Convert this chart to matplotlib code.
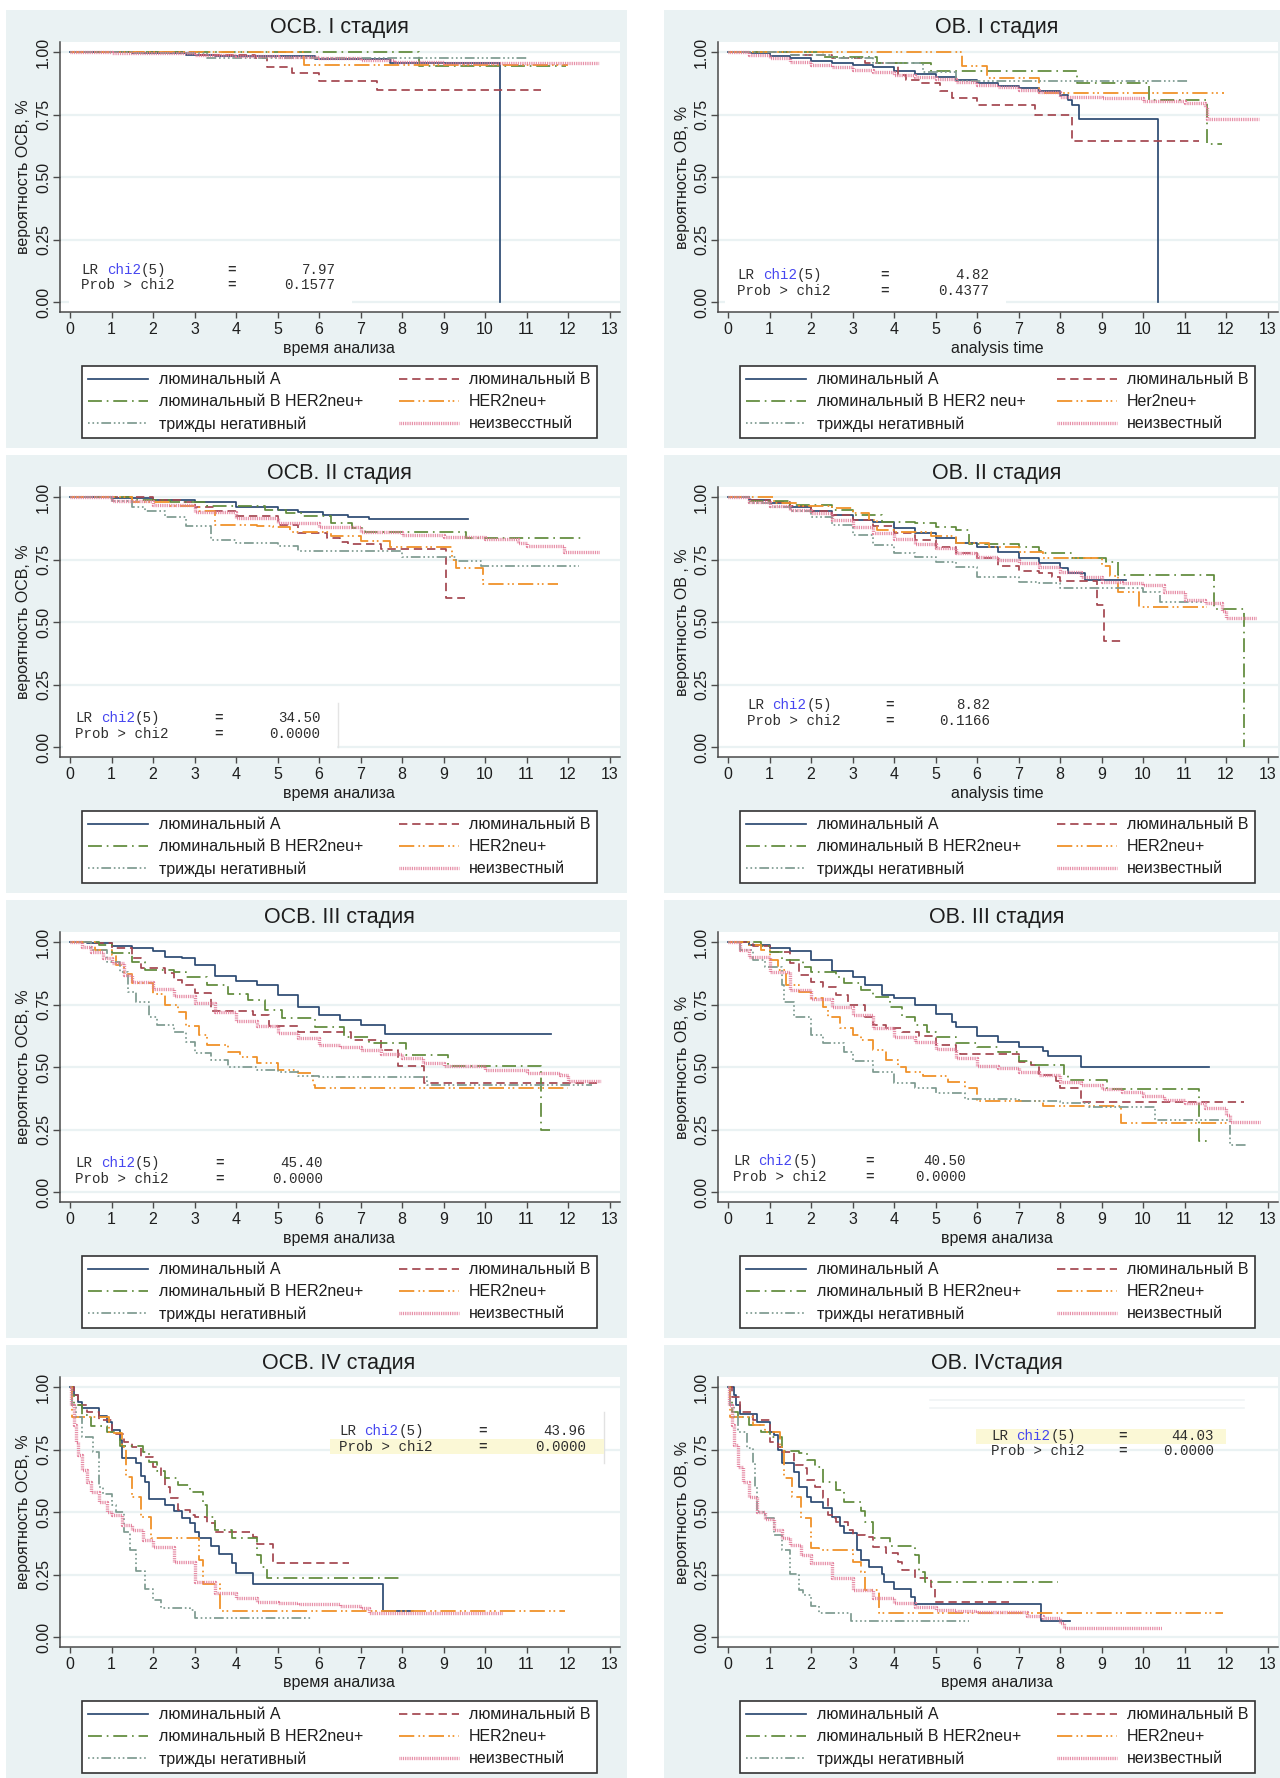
import matplotlib
matplotlib.use("Agg")
import matplotlib.pyplot as plt
from matplotlib.patches import Rectangle
from matplotlib.lines import Line2D

plt.rcParams["font.family"] = ["Liberation Sans", "DejaVu Sans"]
plt.rcParams["lines.scale_dashes"] = False

W, H = 1280, 1778

# ---- data: years / survival ----
# ОСВ. I стадия
osv1_lum_a_t = [0, 1.5, 2.8, 3.5, 5.9, 7.7, 10.35]
osv1_lum_a_s = [1, 0.997, 0.99, 0.985, 0.972, 0.956, 0.0]
osv1_lum_b_t = [0, 3.0, 4.45, 4.75, 5.35, 6.0, 7.4, 11.35]
osv1_lum_b_s = [1, 0.99, 0.975, 0.94, 0.917, 0.885, 0.847, 0.847]
osv1_lum_b_her2_t = [0, 8.4, 11.95]
osv1_lum_b_her2_s = [1, 0.945, 0.945]
osv1_her2_t = [0, 5.65, 12.0]
osv1_her2_s = [1, 0.948, 0.948]
osv1_tnbc_t = [0, 1.5, 3.3, 11.05]
osv1_tnbc_s = [1, 0.995, 0.975, 0.975]
osv1_unknown_t = [0, 1, 2, 3, 4, 5, 6, 7, 7.8, 9, 12.75]
osv1_unknown_s = [1, 0.998, 0.995, 0.99, 0.985, 0.98, 0.975, 0.97, 0.96, 0.956, 0.956]

# ОВ. I стадия
ov1_lum_a_t = [0, 0.5, 1, 1.5, 2, 2.5, 3, 3.5, 4, 4.5, 5, 5.5, 6, 6.5, 7, 7.5, 8, 8.2, 8.3, 8.45, 10.35]
ov1_lum_a_s = [1, 0.995, 0.985, 0.975, 0.963, 0.957, 0.95, 0.94, 0.925, 0.913, 0.9, 0.89, 0.877, 0.865,
               0.855, 0.845, 0.828, 0.81, 0.788, 0.733, 0.0]
ov1_lum_b_t = [0, 1.5, 2.5, 3.3, 4.1, 4.3, 4.6, 5.1, 5.4, 6.0, 7.4, 8.3, 11.35]
ov1_lum_b_s = [1, 0.99, 0.975, 0.955, 0.908, 0.89, 0.875, 0.845, 0.817, 0.788, 0.75, 0.643, 0.643]
ov1_lum_b_her2_t = [0, 2.3, 3.6, 4.9, 8.4, 10.15, 11.55, 11.9]
ov1_lum_b_her2_s = [1, 0.98, 0.958, 0.925, 0.877, 0.808, 0.633, 0.633]
ov1_her2_t = [0, 5.65, 6.25, 7.5, 11.95]
ov1_her2_s = [1, 0.945, 0.897, 0.837, 0.837]
ov1_tnbc_t = [0, 1.5, 2.5, 3.5, 4.7, 5.5, 11.1]
ov1_tnbc_s = [1, 0.99, 0.975, 0.955, 0.92, 0.883, 0.883]
ov1_unknown_t = [0, 0.5, 1, 1.5, 2, 2.5, 3, 3.5, 4, 4.5, 5, 5.5, 6, 6.5, 7, 7.5, 8, 9, 10, 11, 11.5, 11.55, 12.8]
ov1_unknown_s = [1, 0.99, 0.975, 0.96, 0.948, 0.94, 0.93, 0.92, 0.91, 0.9, 0.893, 0.882, 0.87, 0.86, 0.85,
                 0.84, 0.821, 0.815, 0.805, 0.795, 0.779, 0.733, 0.733]

# ОСВ. II стадия
osv2_lum_a_t = [0, 1, 2, 3, 4, 5, 5.5, 6.1, 6.7, 7.2, 9.6]
osv2_lum_a_s = [1, 0.995, 0.99, 0.979, 0.962, 0.95, 0.94, 0.929, 0.922, 0.913, 0.913]
osv2_lum_b_t = [0, 2, 2.7, 3.0, 3.5, 4.0, 5.0, 5.5, 6.2, 6.5, 6.7, 7.5, 9.05, 9.52]
osv2_lum_b_s = [1, 0.99, 0.98, 0.96, 0.945, 0.924, 0.888, 0.855, 0.837, 0.821, 0.811, 0.792, 0.595, 0.595]
osv2_lum_b_her2_t = [0, 1.5, 2.4, 3.3, 4.7, 5.2, 5.6, 6.3, 6.8, 7.1, 9.55, 12.42]
osv2_lum_b_her2_s = [1, 0.99, 0.98, 0.965, 0.95, 0.935, 0.925, 0.895, 0.877, 0.861, 0.835, 0.835]
osv2_her2_t = [0, 1.5, 2.4, 3.1, 3.5, 4.5, 4.9, 5.3, 6.3, 7.0, 7.7, 9.2, 9.3, 9.95, 11.75]
osv2_her2_s = [1, 0.98, 0.965, 0.945, 0.89, 0.885, 0.879, 0.859, 0.845, 0.825, 0.801, 0.75, 0.715, 0.652, 0.652]
osv2_tnbc_t = [0, 1, 1.5, 1.8, 2.3, 2.8, 3.4, 4, 5, 5.5, 8.0, 9.3, 9.9, 12.26]
osv2_tnbc_s = [1, 0.985, 0.96, 0.945, 0.92, 0.884, 0.83, 0.815, 0.805, 0.784, 0.761, 0.744, 0.725, 0.725]
osv2_unknown_t = [0, 1, 2, 3, 4, 5, 6, 7, 8, 9, 10, 10.8, 11, 11.9, 12.75]
osv2_unknown_s = [1, 0.985, 0.968, 0.941, 0.915, 0.895, 0.881, 0.861, 0.848, 0.841, 0.831, 0.815, 0.805,
                  0.779, 0.779]

# ОВ. II стадия
ov2_lum_a_t = [0, 0.5, 1, 1.5, 2, 2.5, 3, 3.5, 4, 4.5, 5, 5.5, 6, 6.5, 7, 7.5, 8, 8.2, 8.6, 9.58]
ov2_lum_a_s = [1, 0.99, 0.975, 0.96, 0.944, 0.928, 0.908, 0.899, 0.875, 0.857, 0.837, 0.817, 0.801, 0.781,
               0.758, 0.735, 0.715, 0.695, 0.668, 0.668]
ov2_lum_b_t = [0, 0.5, 1, 1.5, 2, 2.5, 3, 3.5, 4, 4.5, 5, 5.5, 6, 6.5, 7, 7.5, 7.8, 8.0, 8.9, 9.06, 9.53]
ov2_lum_b_s = [1, 0.99, 0.98, 0.963, 0.945, 0.93, 0.91, 0.885, 0.855, 0.83, 0.801, 0.778, 0.755, 0.725,
               0.704, 0.695, 0.681, 0.664, 0.568, 0.425, 0.425]
ov2_lum_b_her2_t = [0, 0.5, 1.5, 2.5, 3.0, 3.7, 4.5, 5.0, 5.5, 5.8, 7.0, 7.5, 7.6, 8.3, 9.1, 9.4, 11.72, 12.43]
ov2_lum_b_her2_s = [1, 0.985, 0.97, 0.95, 0.928, 0.9, 0.895, 0.881, 0.868, 0.811, 0.801, 0.784, 0.775,
                    0.757, 0.74, 0.688, 0.552, 0.0]
ov2_her2_t = [0, 1.1, 1.7, 2.5, 3.0, 3.4, 3.6, 4.0, 4.9, 5.5, 6.3, 7.0, 7.6, 9.0, 9.2, 9.4, 9.9, 11.55]
ov2_her2_s = [1, 0.975, 0.965, 0.955, 0.935, 0.91, 0.87, 0.86, 0.845, 0.815, 0.8, 0.781, 0.755, 0.724,
              0.685, 0.621, 0.561, 0.561]
ov2_tnbc_t = [0, 0.5, 1, 1.5, 2, 2.5, 3, 3.5, 4, 4.5, 5, 5.5, 6, 7, 7.5, 8, 10.0, 10.4, 11.45]
ov2_tnbc_s = [1, 0.975, 0.96, 0.945, 0.921, 0.888, 0.85, 0.808, 0.775, 0.76, 0.741, 0.72, 0.681, 0.661,
              0.655, 0.637, 0.62, 0.581, 0.581]
ov2_unknown_t = [0, 0.5, 1, 1.5, 2, 2.5, 3, 3.5, 4, 4.5, 5, 5.5, 6, 6.5, 7, 7.5, 8, 8.5, 9, 9.5, 10, 10.5,
                 11, 11.5, 11.9, 12.0, 12.75]
ov2_unknown_s = [1, 0.98, 0.965, 0.95, 0.935, 0.91, 0.881, 0.855, 0.831, 0.812, 0.795, 0.778, 0.761, 0.748,
                 0.735, 0.72, 0.701, 0.68, 0.661, 0.655, 0.648, 0.62, 0.588, 0.575, 0.545, 0.515, 0.515]

# ОСВ. III стадия
osv3_lum_a_t = [0, 0.4, 1, 1.5, 2, 2.3, 2.7, 3, 3.5, 4, 4.5, 5, 5.5, 6, 6.5, 7, 7.58, 11.6]
osv3_lum_a_s = [1, 0.995, 0.984, 0.978, 0.965, 0.94, 0.935, 0.907, 0.864, 0.845, 0.83, 0.788, 0.741, 0.708,
                0.688, 0.668, 0.631, 0.631]
osv3_lum_b_t = [0, 0.5, 1, 1.5, 1.7, 2.3, 2.5, 2.7, 3, 3.4, 4.4, 4.8, 5.5, 6.77, 7.5, 7.9, 8.54, 12.77]
osv3_lum_b_s = [1, 0.995, 0.975, 0.935, 0.895, 0.875, 0.85, 0.828, 0.795, 0.725, 0.708, 0.665, 0.641, 0.608,
                0.57, 0.504, 0.437, 0.437]
osv3_lum_b_her2_t = [0, 0.7, 1.0, 1.5, 1.8, 2.5, 2.8, 3.3, 3.8, 4.3, 4.7, 5.1, 5.9, 6.6, 7.2, 8.1, 9.1,
                     11.34, 11.57]
osv3_lum_b_her2_s = [1, 0.99, 0.955, 0.92, 0.888, 0.88, 0.86, 0.828, 0.791, 0.768, 0.728, 0.697, 0.661,
                     0.621, 0.597, 0.548, 0.504, 0.25, 0.25]
osv3_her2_t = [0, 0.6, 1.0, 1.1, 1.3, 1.5, 2.0, 2.3, 2.6, 2.8, 3.1, 3.3, 3.8, 4.1, 4.5, 5.0, 5.5, 5.85, 5.9, 12.0]
osv3_her2_s = [1, 0.968, 0.95, 0.91, 0.872, 0.837, 0.792, 0.748, 0.72, 0.664, 0.628, 0.588, 0.56, 0.541,
               0.515, 0.488, 0.477, 0.43, 0.415, 0.415]
osv3_tnbc_t = [0, 0.5, 0.9, 1.2, 1.4, 1.6, 1.9, 2.1, 2.5, 2.8, 3.0, 3.4, 3.8, 4.5, 5.0, 5.5, 6.0, 8.6, 12.57]
osv3_tnbc_s = [1, 0.97, 0.921, 0.88, 0.8, 0.761, 0.701, 0.668, 0.64, 0.601, 0.555, 0.528, 0.501, 0.49,
               0.481, 0.465, 0.459, 0.43, 0.43]
osv3_unknown_t = [0, 0.3, 0.5, 0.8, 1, 1.3, 1.5, 2, 2.5, 3, 3.5, 4, 4.5, 5, 5.5, 6, 6.5, 7, 7.5, 8, 8.5, 9,
                  10, 11, 11.8, 12, 12.8]
osv3_unknown_s = [1, 0.98, 0.96, 0.935, 0.915, 0.87, 0.841, 0.811, 0.784, 0.755, 0.721, 0.685, 0.665, 0.637,
                  0.615, 0.59, 0.58, 0.568, 0.551, 0.535, 0.515, 0.504, 0.49, 0.477, 0.47, 0.445, 0.445]

# ОВ. III стадия
ov3_lum_a_t = [0, 0.5, 1, 1.5, 2, 2.5, 3, 3.3, 3.7, 4, 4.5, 5, 5.4, 5.5, 6, 6.5, 7, 7.6, 7.7, 8.5, 11.6]
ov3_lum_a_s = [1, 0.99, 0.975, 0.965, 0.93, 0.885, 0.861, 0.83, 0.788, 0.775, 0.748, 0.712, 0.68, 0.659,
               0.624, 0.6, 0.581, 0.565, 0.545, 0.501, 0.501]
ov3_lum_b_t = [0, 0.6, 1, 1.5, 1.7, 2, 2.3, 2.6, 2.9, 3.3, 3.5, 3.8, 4.2, 4.6, 5, 5.5, 5.6, 7.0, 7.3, 7.5,
               7.9, 8.0, 8.5, 12.43]
ov3_lum_b_s = [1, 0.985, 0.96, 0.915, 0.87, 0.84, 0.82, 0.788, 0.748, 0.701, 0.67, 0.655, 0.64, 0.625, 0.59,
               0.565, 0.551, 0.521, 0.51, 0.47, 0.445, 0.415, 0.361, 0.361]
ov3_lum_b_her2_t = [0, 0.8, 1.0, 1.3, 1.8, 2.0, 2.6, 2.8, 3.2, 3.5, 3.9, 4.2, 4.5, 4.8, 5.0, 5.5, 6.0, 6.5,
                    7.0, 7.3, 8.1, 8.2, 9.14, 11.35, 11.55]
ov3_lum_b_her2_s = [1, 0.985, 0.96, 0.928, 0.9, 0.881, 0.86, 0.835, 0.808, 0.781, 0.741, 0.701, 0.668, 0.64,
                    0.621, 0.595, 0.58, 0.56, 0.525, 0.508, 0.47, 0.448, 0.411, 0.205, 0.205]
ov3_her2_t = [0, 0.5, 0.8, 1.0, 1.2, 1.4, 1.7, 2.0, 2.3, 2.4, 2.7, 3.0, 3.2, 3.5, 3.8, 4.1, 4.3, 4.7, 5.3,
              5.7, 6.0, 7.6, 9.48, 12.04]
ov3_her2_s = [1, 0.99, 0.97, 0.93, 0.89, 0.83, 0.8, 0.775, 0.74, 0.7, 0.655, 0.63, 0.608, 0.568, 0.528, 0.5,
              0.48, 0.464, 0.441, 0.415, 0.364, 0.344, 0.277, 0.277]
ov3_tnbc_t = [0, 0.3, 0.6, 0.9, 1.3, 1.35, 1.6, 2.0, 2.3, 2.8, 3.0, 3.5, 4, 4.5, 5, 5.7, 7.0, 8.0, 8.7,
              10.3, 12.09, 12.51]
ov3_tnbc_s = [1, 0.97, 0.93, 0.9, 0.83, 0.76, 0.7, 0.63, 0.595, 0.561, 0.525, 0.481, 0.437, 0.415, 0.395,
              0.371, 0.365, 0.355, 0.341, 0.288, 0.188, 0.188]
ov3_unknown_t = [0, 0.3, 0.5, 1.0, 1.5, 2.0, 2.5, 3, 3.5, 4, 4.5, 5, 5.5, 6, 6.5, 7, 7.5, 8, 8.5, 9, 9.5, 10,
                 10.5, 11, 11.5, 12, 12.1, 12.83]
ov3_unknown_s = [1, 0.97, 0.94, 0.881, 0.808, 0.771, 0.741, 0.708, 0.655, 0.62, 0.6, 0.571, 0.535, 0.504,
                 0.495, 0.481, 0.468, 0.441, 0.428, 0.411, 0.4, 0.384, 0.37, 0.357, 0.335, 0.308, 0.279, 0.279]

# ОСВ. IV стадия
osv4_lum_a_t = [0, 0.1, 0.2, 0.3, 0.7, 0.9, 1.0, 1.2, 1.25, 1.6, 1.7, 1.8, 1.9, 2.3, 2.5, 2.7, 2.9, 3.0,
                3.1, 3.4, 3.6, 3.9, 4.0, 4.4, 7.55, 8.27]
osv4_lum_a_s = [1, 0.97, 0.94, 0.917, 0.885, 0.86, 0.83, 0.79, 0.715, 0.695, 0.645, 0.621, 0.552, 0.53,
                0.505, 0.477, 0.455, 0.42, 0.395, 0.364, 0.331, 0.295, 0.255, 0.211, 0.105, 0.105]
osv4_lum_b_t = [0, 0.1, 0.2, 0.4, 0.7, 1.0, 1.3, 1.5, 1.7, 2.0, 2.2, 2.3, 2.4, 2.6, 2.9, 3.0, 3.3, 3.5,
                4.4, 4.5, 4.88, 6.72]
osv4_lum_b_s = [1, 0.97, 0.93, 0.899, 0.87, 0.812, 0.781, 0.76, 0.721, 0.68, 0.64, 0.601, 0.557, 0.51,
                0.49, 0.481, 0.455, 0.421, 0.4, 0.371, 0.295, 0.295]
osv4_lum_b_her2_t = [0, 0.05, 0.1, 0.3, 0.5, 0.9, 1.2, 1.75, 1.9, 2.1, 2.3, 2.6, 2.9, 3.2, 3.3, 3.5, 3.9,
                     4.5, 4.6, 4.75, 7.95]
osv4_lum_b_her2_s = [1, 0.97, 0.93, 0.89, 0.845, 0.82, 0.764, 0.741, 0.7, 0.665, 0.635, 0.608, 0.581, 0.53,
                     0.481, 0.428, 0.395, 0.33, 0.281, 0.235, 0.235]
osv4_her2_t = [0, 0.05, 0.95, 1.25, 1.35, 1.5, 1.7, 1.95, 3.1, 3.2, 3.62, 11.93]
osv4_her2_s = [1, 0.881, 0.815, 0.76, 0.641, 0.561, 0.481, 0.395, 0.31, 0.211, 0.104, 0.104]
osv4_tnbc_t = [0, 0.05, 0.15, 0.3, 0.55, 0.7, 0.8, 1.0, 1.1, 1.3, 1.45, 1.6, 1.8, 2.0, 2.2, 2.9, 3.0, 5.83]
osv4_tnbc_s = [1, 0.93, 0.881, 0.8, 0.74, 0.6, 0.571, 0.53, 0.501, 0.42, 0.348, 0.264, 0.192, 0.15, 0.115,
               0.11, 0.077, 0.077]
osv4_unknown_t = [0, 0.03, 0.1, 0.15, 0.2, 0.3, 0.4, 0.5, 0.7, 0.9, 1.0, 1.25, 1.5, 1.75, 2.0, 2.5, 3.0,
                  3.5, 4.0, 4.5, 5.0, 5.5, 6.5, 7.0, 7.2, 10.44]
osv4_unknown_s = [1, 0.93, 0.85, 0.78, 0.73, 0.67, 0.62, 0.581, 0.541, 0.5, 0.488, 0.45, 0.428, 0.39, 0.361,
                  0.301, 0.221, 0.175, 0.155, 0.141, 0.135, 0.131, 0.125, 0.115, 0.095, 0.095]

# ОВ. IV стадия
ov4_lum_a_t = [0, 0.15, 0.2, 0.3, 0.7, 1.0, 1.1, 1.2, 1.3, 1.6, 1.7, 1.9, 2.0, 2.3, 2.5, 2.7, 2.8, 3.1, 3.2,
               3.4, 3.7, 3.75, 4.0, 4.4, 4.5, 7.54, 8.25]
ov4_lum_a_s = [1, 0.97, 0.93, 0.892, 0.86, 0.82, 0.808, 0.748, 0.695, 0.66, 0.6, 0.56, 0.541, 0.515, 0.481,
               0.445, 0.415, 0.35, 0.308, 0.281, 0.251, 0.221, 0.192, 0.16, 0.131, 0.064, 0.064]
ov4_lum_b_t = [0, 0.1, 0.3, 0.6, 1.0, 1.2, 1.3, 1.6, 1.8, 1.9, 2.1, 2.3, 2.4, 2.5, 2.6, 2.9, 3.0, 3.3, 3.5,
               3.8, 4.1, 4.2, 4.5, 4.9, 4.98, 6.78]
ov4_lum_b_s = [1, 0.96, 0.901, 0.87, 0.781, 0.76, 0.74, 0.69, 0.675, 0.63, 0.6, 0.555, 0.49, 0.475, 0.46,
               0.43, 0.408, 0.4, 0.36, 0.335, 0.3, 0.268, 0.237, 0.2, 0.141, 0.141]
ov4_lum_b_her2_t = [0, 0.05, 0.1, 0.25, 0.5, 0.8, 1.0, 1.3, 1.7, 1.9, 2.1, 2.3, 2.6, 2.8, 3.2, 3.3, 3.5, 3.9,
                    4.5, 4.6, 4.75, 7.96]
ov4_lum_b_her2_s = [1, 0.95, 0.9, 0.88, 0.848, 0.82, 0.8, 0.744, 0.735, 0.71, 0.68, 0.621, 0.588, 0.541,
                    0.505, 0.46, 0.395, 0.365, 0.33, 0.261, 0.219, 0.219]
ov4_her2_t = [0, 0.05, 0.6, 0.9, 1.25, 1.35, 1.55, 1.75, 2.0, 2.2, 3.0, 3.2, 3.3, 3.65, 11.92]
ov4_her2_s = [1, 0.881, 0.85, 0.82, 0.759, 0.635, 0.561, 0.477, 0.355, 0.35, 0.301, 0.26, 0.188, 0.095, 0.095]
ov4_tnbc_t = [0, 0.05, 0.15, 0.25, 0.45, 0.6, 0.65, 0.7, 0.9, 1.1, 1.3, 1.5, 1.7, 1.8, 2.0, 2.2, 2.97, 5.8]
ov4_tnbc_s = [1, 0.93, 0.88, 0.82, 0.755, 0.7, 0.6, 0.501, 0.475, 0.41, 0.348, 0.251, 0.19, 0.17, 0.125,
              0.095, 0.064, 0.064]
ov4_unknown_t = [0, 0.03, 0.1, 0.15, 0.25, 0.35, 0.5, 0.7, 0.9, 1.1, 1.3, 1.5, 1.75, 2.0, 2.5, 3.0, 3.5,
                 4.0, 4.5, 5.0, 5.5, 6.0, 7.2, 7.6, 8.0, 8.1, 10.45]
ov4_unknown_s = [1, 0.93, 0.85, 0.77, 0.68, 0.62, 0.56, 0.5, 0.472, 0.43, 0.395, 0.37, 0.328, 0.295, 0.237,
                 0.19, 0.155, 0.135, 0.12, 0.11, 0.105, 0.101, 0.085, 0.075, 0.055, 0.037, 0.037]

titles = ["ОСВ. I стадия", "ОВ. I стадия", "ОСВ. II стадия", "ОВ. II стадия",
          "ОСВ. III стадия", "ОВ. III стадия", "ОСВ. IV стадия", "ОВ. IVстадия"]
xlabels = ["время анализа", "analysis time", "время анализа", "analysis time",
           "время анализа", "время анализа", "время анализа", "время анализа"]
ylabels = ["вероятность ОСВ, %", "вероятность ОВ, %", "вероятность ОСВ, %", "вероятность ОВ , %",
           "вероятность ОСВ, %", "вероятность ОВ, %", "вероятность ОСВ, %", "вероятность ОВ, %"]
legend_std = ["люминальный А", "люминальный В", "люминальный В HER2neu+", "HER2neu+",
              "трижды негативный", "неизвестный"]
legend_p1 = ["люминальный А", "люминальный В", "люминальный В HER2neu+", "HER2neu+",
             "трижды негативный", "неизвесстный"]
legend_p2 = ["люминальный А", "люминальный В", "люминальный В HER2 neu+", "Her2neu+",
             "трижды негативный", "неизвестный"]
lr_chi2 = ["7.97", "4.82", "34.50", "8.82", "45.40", "40.50", "43.96", "44.03"]
prob_chi2 = ["0.1577", "0.4377", "0.0000", "0.1166", "0.0000", "0.0000", "0.0000", "0.0000"]

STYLE = [
    dict(color="#2b4a72", linestyle="-", lw=1.25),
    dict(color="#a3464f", linestyle=(0, (6, 3.5)), lw=1.25),
    dict(color="#5f8a3a", linestyle=(0, (10, 3.5, 1.2, 3.5)), lw=1.25),
    dict(color="#f0922a", linestyle=(0, (11, 3, 1.2, 2, 1.2, 3)), lw=1.3),
    dict(color="#7d9a90", linestyle=(0, (1.2, 2, 1.2, 2, 1.2, 2, 7, 2)), lw=1.25),
    dict(color="#e27a97", linestyle=(0, (0.6, 0.7)), lw=2.4),
]

g = globals()
PANELS = []
for i, key in enumerate(["osv1", "ov1", "osv2", "ov2", "osv3", "ov3", "osv4", "ov4"]):
    curves = [(g[f"{key}_{n}_t"], g[f"{key}_{n}_s"])
              for n in ["lum_a", "lum_b", "lum_b_her2", "her2", "tnbc", "unknown"]]
    PANELS.append(dict(key=key, curves=curves))

# stats text placement (data coords): left x, row1 y, row2 y, "=" x, value right x
STATS_POS = [
    (0.27, 0.128, 0.068, 3.9, 6.4),
    (0.22, 0.108, 0.044, 3.76, 6.29),
    (0.13, 0.116, 0.052, 3.57, 6.03),
    (0.46, 0.168, 0.104, 3.9, 6.31),
    (0.13, 0.116, 0.052, 3.61, 6.1),
    (0.12, 0.124, 0.06, 3.4, 5.73),
    (6.48, 0.824, 0.76, 9.95, 12.43),
    (6.34, 0.804, 0.744, 9.5, 11.71),
]

BG = "#eaf2f3"
TXT = "#1e1e1e"
MONO = ["Liberation Mono", "DejaVu Sans Mono"]
MONO_SIZE = 10.2
CHAR_PT = 0.6 * MONO_SIZE  # advance of one monospace glyph, points


def fx(x):
    return x / W


def fy(y):
    return 1 - y / H


fig = plt.figure(figsize=(W / 100, H / 100), dpi=100)

for idx, panel in enumerate(PANELS):
    r, c = divmod(idx, 2)
    dx, dy = 658 * c, 445 * r

    fig.add_artist(Rectangle((fx(6 + dx), fy(448 + dy)), 621 / W, 438 / H,
                             transform=fig.transFigure, facecolor=BG, edgecolor="none", zorder=0))

    ax = fig.add_axes([fx(60 + dx), fy(312 + dy), 560 / W, 270 / H])
    ax.set_facecolor("white")
    ax.set_xlim(-10 / 41.5, 550 / 41.5)
    ax.set_ylim(-0.04, 1.04)
    ax.set_axisbelow(True)
    ax.set_xticks(range(14))
    ax.set_yticks([0, 0.25, 0.5, 0.75, 1.0])
    ax.set_yticklabels(["0.00", "0.25", "0.50", "0.75", "1.00"])
    ax.grid(axis="y", color=BG, lw=1.6)
    ax.grid(axis="x", visible=False)
    for side in ["top", "right"]:
        ax.spines[side].set_visible(False)
    for side in ["left", "bottom"]:
        ax.spines[side].set_color("#4a4a4a")
        ax.spines[side].set_linewidth(1.1)
    ax.tick_params(axis="x", length=4.5, width=1, color="#4a4a4a", pad=3, labelsize=11.5, labelcolor=TXT)
    ax.tick_params(axis="y", length=5, width=1, color="#4a4a4a", pad=1.5, labelsize=11.5,
                   labelcolor=TXT, labelrotation=90)
    for lab in ax.get_yticklabels():
        lab.set_va("center")

    for (t, s), st in zip(panel["curves"], STYLE):
        ax.step(t, s, where="post", zorder=2, **st)

    # stats box
    lx, y1, y2, ex, vx = STATS_POS[idx]
    if idx in (0, 1, 2):
        ax.add_patch(Rectangle((lx - 0.3, -0.012), vx - lx + 0.7, 0.19,
                               facecolor="white", edgecolor="none", zorder=1))
    if idx == 2:
        ax.plot([6.45, 6.45], [0.0, 0.175], color="#e4e4e4", lw=1, zorder=1.1)
    if idx == 6:
        ax.add_patch(Rectangle((6.26, 0.731), 6.6, 0.061, facecolor="#fbf8d6",
                               edgecolor="none", zorder=1.2))
        ax.plot([12.86, 12.86], [0.697, 0.899], color="#e2e2e2", lw=1, zorder=1.1)
    if idx == 7:
        ax.add_patch(Rectangle((5.97, 0.772), 6.04, 0.059, facecolor="#fbf8d6",
                               edgecolor="none", zorder=1.2))
        for yy in (0.948, 0.915):
            ax.plot([4.86, 12.43], [yy, yy], color="#f0f4f5", lw=1.2, zorder=1.1)

    tk = dict(family=MONO, fontsize=MONO_SIZE, zorder=3, va="center", textcoords="offset points")
    ax.annotate("LR", (lx, y1), xytext=(0, 0), color="#2e2e2e", **tk)
    ax.annotate("chi2", (lx, y1), xytext=(3 * CHAR_PT, 0), color="#4646f0", **tk)
    ax.annotate("(5)", (lx, y1), xytext=(7 * CHAR_PT, 0), color="#2e2e2e", **tk)
    ax.annotate("Prob > chi2", (lx, y2), xytext=(0, 0), color="#2e2e2e", **tk)
    ax.annotate("=", (ex, y1), xytext=(0, 0), color="#2e2e2e", ha="center", fontweight="bold", **tk)
    ax.annotate("=", (ex, y2), xytext=(0, 0), color="#2e2e2e", ha="center", fontweight="bold", **tk)
    ax.annotate(lr_chi2[idx], (vx, y1), xytext=(0, 0), color="#2e2e2e", ha="right", **tk)
    ax.annotate(prob_chi2[idx], (vx, y2), xytext=(0, 0), color="#2e2e2e", ha="right", **tk)

    # titles and labels
    fig.text(fx(339 + dx), fy(28 + dy), titles[idx], ha="center", va="center",
             fontsize=15.5, color=TXT)
    fig.text(fx(339 + dx), fy(348 + dy), xlabels[idx], ha="center", va="center",
             fontsize=11.5, color=TXT)
    fig.text(fx(24 + dx), fy(177 + dy), ylabels[idx], ha="center", va="center",
             rotation=90, fontsize=11.5, color=TXT)

    # legend (column-major order for ncol=2)
    labels = legend_p1 if idx == 0 else legend_p2 if idx == 1 else legend_std
    handles = [Line2D([], [], **st) for st in STYLE]
    order = [0, 2, 4, 1, 3, 5]
    leg = ax.legend([handles[k] for k in order], [labels[k] for k in order],
                    loc="center", ncol=2, mode="expand", borderaxespad=0,
                    bbox_to_anchor=(fx(82 + dx), fy(439 + dy), 515 / W, 74 / H),
                    bbox_transform=fig.transFigure, fontsize=11.5, handlelength=3.75,
                    handletextpad=0.65, borderpad=0.4, labelspacing=0.43,
                    fancybox=False, framealpha=1, edgecolor="#333333")
    leg.get_frame().set_linewidth(1.2)
    for txt in leg.get_texts():
        txt.set_color(TXT)

fig.savefig("out.png", dpi=100, facecolor="white")
